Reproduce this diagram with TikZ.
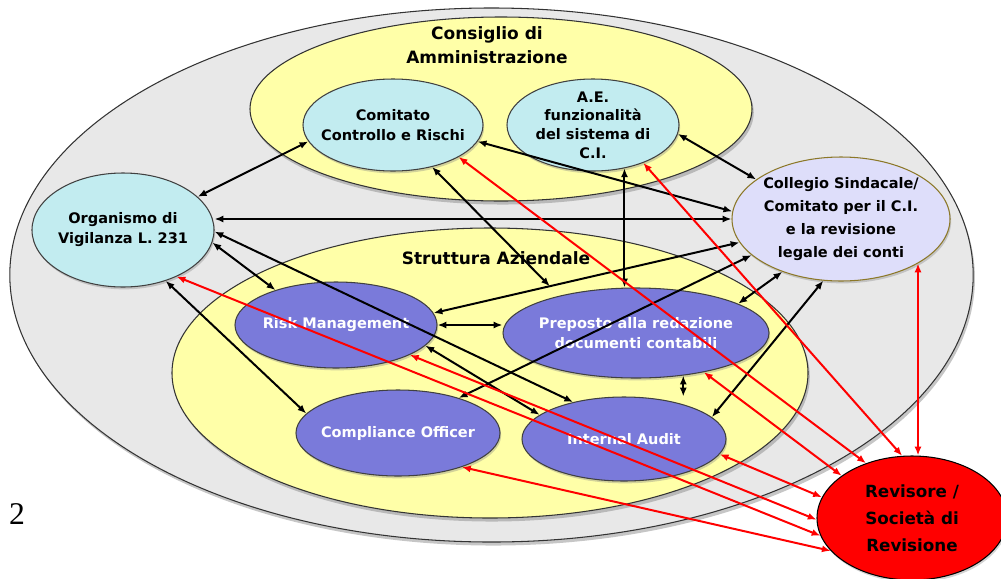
\documentclass[tikz,border=0pt]{standalone}
\usepackage{fontspec}
\setmainfont{DejaVu Sans}
\newfontfamily\pagefont{Liberation Serif}
\usepackage{xcolor}
\usetikzlibrary{shapes.geometric, arrows.meta, calc, shadows}
\definecolor{FirmGrey}{RGB}{232,232,232}
\definecolor{AreaYellow}{RGB}{255,255,168}
\definecolor{CtrlCyan}{RGB}{194,236,240}
\definecolor{SindLilac}{RGB}{222,222,250}
\definecolor{SindEdge}{RGB}{140,120,40}
\definecolor{FuncBlue}{RGB}{122,122,218}
\definecolor{AudRed}{RGB}{255,0,0}

\begin{document}
\begin{tikzpicture}[x=0.03cm, y=-0.03cm,
          area/.style={ellipse, draw=black!80, line width=0.9pt, inner sep=0pt,
                       drop shadow={shadow xshift=1.5pt, shadow yshift=-3pt,
                                    opacity=.45}},
          oval/.style={ellipse, draw=black!75, line width=0.9pt, inner sep=0pt,
                       drop shadow={shadow xshift=1pt, shadow yshift=-2pt,
                                    opacity=.35}},
          txt/.style={font=\fontsize{12.4}{17}\selectfont\bfseries,
                      align=center, inner sep=0pt},
          ttl/.style={font=\fontsize{14.5}{21}\selectfont\bfseries,
                      align=center, inner sep=0pt},
          link/.style={{Latex[length=7.5pt,width=6pt]}-{Latex[length=7.5pt,width=6pt]},
                       line width=1.7pt},
          rlink/.style={link, draw=AudRed}
        ]
        \useasboundingbox (0,0) rectangle (1001,578);

        % the company and its two areas
        \node[area, fill=FirmGrey, minimum width=28.9cm, minimum height=16.02cm]
              (firm) at (491.5,275) {};
        \node[area, fill=AreaYellow, minimum width=15.06cm, minimum height=5.52cm]
              (board) at (501,109) {};
        \node[area, fill=AreaYellow, minimum width=19.08cm, minimum height=8.7cm]
              (company) at (490,373) {};
        \node[ttl] (boardname) at (487,45) {Consiglio di\\Amministrazione};
        \node[ttl] (companyname) at (496,258) {Struttura Aziendale};

        \node[oval, fill=CtrlCyan, minimum width=5.46cm, minimum height=3.42cm,
              label={[txt]center:{Organismo di\\Vigilanza L. 231}}]
              (odv) at (123,230) {};
        \node[oval, fill=CtrlCyan, minimum width=5.4cm, minimum height=2.76cm,
              label={[txt]center:{Comitato\\Controllo e Rischi}}]
              (ccr) at (393,125) {};
        \node[oval, fill=CtrlCyan, minimum width=5.16cm, minimum height=2.76cm,
              label={[txt, font=\fontsize{12.4}{16}\selectfont\bfseries]center:{A.E.\\funzionalità\\del sistema di\\C.I.}}]
              (ae) at (593,125) {};
        \node[oval, fill=SindLilac, draw=SindEdge, minimum width=6.54cm,
              minimum height=3.72cm,
              label={[txt, font=\fontsize{12.4}{19.5}\selectfont\bfseries]center:{Collegio Sindacale/\\Comitato per il C.I.\\e la revisione\\legale dei conti}}]
              (coll) at (841,219) {};

        \node[oval, fill=FuncBlue, minimum width=6.06cm, minimum height=2.58cm,
              label={[txt, text=white]center:{Risk Management}}]
              (risk) at (336,325) {};
        \node[oval, fill=FuncBlue, minimum width=7.98cm, minimum height=2.7cm,
              label={[txt, text=white]center:{Preposto alla redazione\\documenti contabili}}]
              (prep) at (636,333) {};
        \node[oval, fill=FuncBlue, minimum width=6.12cm, minimum height=2.58cm,
              label={[txt, text=white]center:{Compliance Officer}}]
              (comp) at (398,433) {};
        \node[oval, fill=FuncBlue, minimum width=6.12cm, minimum height=2.52cm,
              label={[txt, text=white]center:{Internal Audit}}]
              (audit) at (624,439) {};

        \node[oval, fill=AudRed, draw=black, minimum width=5.7cm, minimum height=3.72cm,
              label={[txt, font=\fontsize{14.3}{23}\selectfont\bfseries]center:{Revisore /\\Società di\\Revisione}}]
              (rev) at (912,518) {};

        \node[font=\pagefont\fontsize{27}{27}\selectfont] (pageno) at (17,514) {2};

        % black links
        \draw[link] (odv.24) -- (ccr.191);
        \draw[link] (coll.west) -- (coll.west -| odv.east);
        \draw[link] (ccr.349) -- (coll.176);
        \draw[link] (ae.354) -- (coll.155);
        \draw[link] (odv.352) -- (risk.150);
        \draw[link] (odv.359) -- (audit.144);
        \draw[link] (odv.310) -- (comp.168);
        \draw[link] (risk.7) -- (coll.193);
        \coordinate (rc) at ($(risk.7)!0.38!(coll.193)$);
        \draw[link] (ccr.313) -- (rc);
        \draw[link] (ae.306) -- (ae.306 |- prep.north);
        \draw[link] (risk.east) -- (risk.east -| prep.west);
        \draw[link] (comp.30) -- (coll.202);
        \draw[link] (prep.16) -- (coll.222);
        \draw[link] (audit.14) -- (coll.254);
        \draw[link] (prep.318) -- (prep.318 |- audit.north);
        \draw[link] (risk.347) -- (audit.164);

        % red links to the auditor
        \draw[rlink] (ccr.334) -- (rev.130);
        \draw[rlink] (ae.323) -- (rev.99);
        \draw[rlink] (coll.330) -- (coll.330 |- rev.north);
        \draw[rlink] (prep.330) -- (rev.149);
        \draw[rlink] (audit.351) -- (rev.167);
        \draw[rlink] (risk.338) -- (rev.181);
        \draw[rlink] (odv.319) -- (rev.191);
        \draw[rlink] (comp.332) -- (rev.202);
      \end{tikzpicture}
\end{document}
